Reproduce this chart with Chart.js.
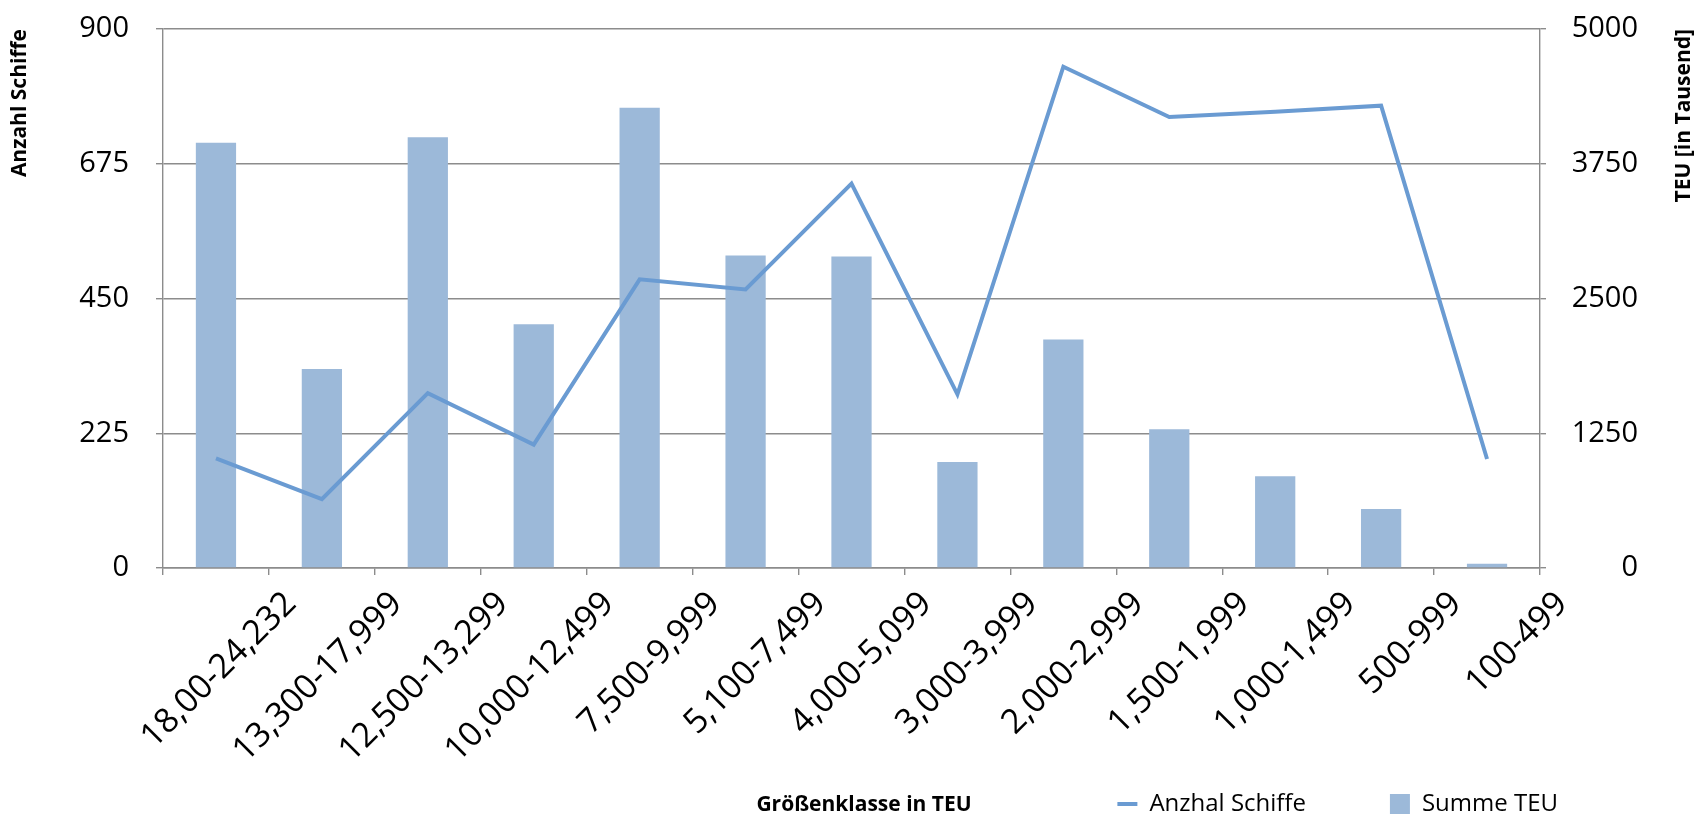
<!DOCTYPE html>
<html>
<head>
<meta charset="utf-8">
<script src="https://cdn.jsdelivr.net/npm/chart.js@4/dist/chart.umd.min.js"></script>
<style>
  html, body { margin: 0; padding: 0; background: #fff; }
  #wrap { position: relative; width: 1708px; height: 826px; }
</style>
</head>
<body>
<div id="wrap"><canvas id="shipChart"></canvas></div>
<script>
// Größenklassen (TEU) - x axis categories
const categories = ['18,00-24,232', '13,300-17,999', '12,500-13,299', '10,000-12,499', '7,500-9,999', '5,100-7,499', '4,000-5,099', '3,000-3,999', '2,000-2,999', '1,500-1,999', '1,000-1,499', '500-999', '100-499'];
// line, left axis
const anzahlSchiffe = [183, 115, 292, 206, 482, 465, 642, 290, 837, 753, 762, 772, 182];
// bars, right axis (TEU in Tausend)
const summeTeu = [3945, 1845, 3996, 2262, 4270, 2900, 2890, 983, 2119, 1288, 852, 547, 40];
const leftTicks = [0, 225, 450, 675, 900];
const rightTicks = [0, 1250, 2500, 3750, 5000];

const fontFamily = '"Open Sans", sans-serif';
const gridGray = '#8c8c8c';
const lineBlue = '#6a9bd2';
const barBlue = '#9cb9d9';

// x title shares the row with the legend, right title reads bottom-to-top like Excel
const extraTitles = {
    id: 'extraTitles',
    afterDraw(chart) {
        const ctx = chart.ctx;
        const legend = chart.legend;
        ctx.save();
        ctx.fillStyle = '#000';
        ctx.font = 'bold 21px ' + fontFamily;
        ctx.textBaseline = 'middle';
        ctx.textAlign = 'center';
        ctx.fillText('Größenklasse in TEU', 864, legend.top + 8 + 13);
        ctx.translate(1684, chart.chartArea.top);
        ctx.rotate(-Math.PI / 2);
        ctx.textAlign = 'right';
        ctx.fillText('TEU [in Tausend]', 0, 0);
        ctx.restore();
    }
};

// keep the plot box fixed, no extra room for half tick labels
function noEdgePadding(scale) {
    scale.paddingTop = 0;
    scale.paddingBottom = 0;
}

const ctx = document.getElementById('shipChart').getContext('2d');
new Chart(ctx, {
    type: 'bar',
    data: {
        labels: categories,
        datasets: [
            {
                type: 'line',
                label: 'Anzhal Schiffe',
                data: anzahlSchiffe,
                yAxisID: 'y',
                borderColor: lineBlue,
                backgroundColor: lineBlue,
                borderWidth: 4,
                pointRadius: 0,
                pointStyle: 'line',
                tension: 0,
                order: 0
            },
            {
                label: 'Summe TEU',
                data: summeTeu,
                yAxisID: 'y1',
                backgroundColor: barBlue,
                borderWidth: 0,
                pointStyle: 'rect',
                barPercentage: 0.38,
                categoryPercentage: 1,
                order: 1
            }
        ]
    },
    options: {
        responsive: true,
        maintainAspectRatio: false,
        animation: false,
        devicePixelRatio: 1,
        layout: { padding: { top: 29, left: 0, right: 70, bottom: 0 } },
        plugins: {
            tooltip: { enabled: false },
            legend: {
                position: 'bottom',
                align: 'end',
                labels: {
                    font: { family: fontFamily, size: 24 },
                    color: '#000',
                    usePointStyle: true,
                    pointStyleWidth: 20,
                    boxHeight: 20,
                    padding: 8,
                    generateLabels(chart) {
                        const items = Chart.defaults.plugins.legend.labels.generateLabels(chart);
                        // Excel leaves wide gaps after each entry
                        items.forEach(item => {
                            item.text += item.datasetIndex === 0 ? '\u2003\u2003\u2003\u2009' : '\u2003\u2003\u2003';
                        });
                        return items;
                    }
                }
            }
        },
        scales: {
            x: {
                offset: true,
                grid: { offset: true, drawOnChartArea: false, color: gridGray, lineWidth: 1.4, tickLength: 7 },
                border: { color: gridGray, width: 1.4 },
                ticks: {
                    font: { family: fontFamily, size: 34 },
                    color: '#000',
                    minRotation: 45,
                    maxRotation: 45,
                    autoSkip: false,
                    padding: 9,
                    labelOffset: 75
                },
                afterFit(scale) { scale.height = 216; }
            },
            y: {
                position: 'left',
                min: 0,
                max: 900,
                afterBuildTicks(scale) { scale.ticks = leftTicks.map(v => ({ value: v })); },
                grid: { color: gridGray, lineWidth: 1.4, tickLength: 7 },
                border: { color: gridGray, width: 1.4 },
                ticks: { font: { family: fontFamily, size: 29 }, color: '#000', padding: 27 },
                title: {
                    display: true,
                    text: 'Anzahl Schiffe',
                    align: 'end',
                    color: '#000',
                    font: { family: fontFamily, size: 21, weight: 'bold' },
                    padding: { top: 7, bottom: 0 }
                },
                afterFit(scale) { scale.width = 163; noEdgePadding(scale); }
            },
            y1: {
                position: 'right',
                min: 0,
                max: 5000,
                afterBuildTicks(scale) { scale.ticks = rightTicks.map(v => ({ value: v })); },
                grid: { drawOnChartArea: false, color: gridGray, lineWidth: 1.4, tickLength: 6 },
                border: { color: gridGray, width: 1.4 },
                ticks: {
                    font: { family: fontFamily, size: 29 },
                    color: '#000',
                    padding: 25,
                    crossAlign: 'far',
                    callback: value => String(value)
                },
                afterFit(scale) { scale.width = 98; noEdgePadding(scale); }
            }
        }
    },
    plugins: [extraTitles]
});
</script>
</body>
</html>
